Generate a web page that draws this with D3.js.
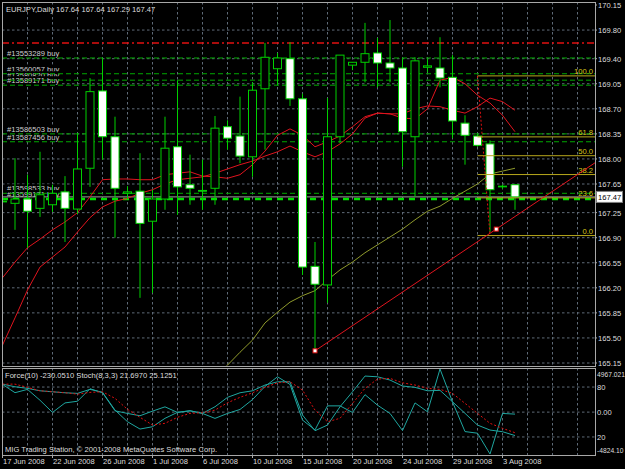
<!DOCTYPE html>
<html><head><meta charset="utf-8">
<script src="https://cdn.jsdelivr.net/npm/d3@7/dist/d3.min.js"></script>
<style>
html,body{margin:0;padding:0;background:#000;}
svg{display:block;}
text{font-family:"Liberation Sans",Arial,sans-serif;}
</style>
</head><body>
<svg id="c" width="625" height="469"></svg>
<script>
// ---------------- DATA ----------------
const symbolTitle = "EURJPY,Daily  167.64 167.64 167.29 167.47";
const panelTitle = "Force(10) -230.0510  Stoch(8,3,3) 21.6970 25.1251";
const copyright = "MIG Trading Station, \u00a9 2001-2008 MetaQuotes Software Corp.";

const dates = ["17 Jun 2008","18 Jun 2008","19 Jun 2008","20 Jun 2008","22 Jun 2008","23 Jun 2008","24 Jun 2008","25 Jun 2008","26 Jun 2008","27 Jun 2008","29 Jun 2008","30 Jun 2008","1 Jul 2008","2 Jul 2008","3 Jul 2008","4 Jul 2008","6 Jul 2008","7 Jul 2008","8 Jul 2008","9 Jul 2008","10 Jul 2008","11 Jul 2008","13 Jul 2008","14 Jul 2008","15 Jul 2008","16 Jul 2008","17 Jul 2008","18 Jul 2008","20 Jul 2008","21 Jul 2008","22 Jul 2008","23 Jul 2008","24 Jul 2008","25 Jul 2008","27 Jul 2008","28 Jul 2008","29 Jul 2008","30 Jul 2008","31 Jul 2008","1 Aug 2008","3 Aug 2008","4 Aug 2008"];

const open  = [167.40,167.38,167.44,167.31,167.36,167.54,167.30,167.87,168.95,168.31,167.52,167.55,167.13,167.44,168.17,167.64,167.56,167.59,168.45,168.32,168.03,168.98,169.26,169.40,168.84,166.50,166.24,168.31,169.31,169.35,169.48,169.34,169.27,168.31,169.28,169.27,169.14,168.50,168.32,168.21,167.62,167.64];
const high  = [167.80,168.01,167.78,168.10,167.64,167.76,168.36,169.13,169.41,168.59,167.62,168.08,167.57,168.59,169.10,168.06,167.99,168.60,168.54,168.87,169.07,169.62,169.48,169.63,168.91,166.84,168.85,169.45,169.35,169.90,169.69,169.94,169.41,169.42,169.40,169.70,169.45,168.61,168.35,168.26,167.64,167.64];
const low   = [167.05,167.01,166.76,167.19,167.26,166.84,167.23,167.61,167.99,166.90,167.44,166.06,166.13,167.29,167.22,167.36,167.29,167.36,168.13,167.94,167.75,168.13,169.03,168.74,166.38,165.32,165.99,168.22,169.24,169.07,169.00,169.07,167.89,167.47,169.21,169.00,168.29,167.92,168.17,166.98,167.58,167.29];
const close = [167.41,167.44,167.27,167.50,167.52,167.31,167.86,168.94,168.31,167.59,167.54,167.10,167.44,168.15,167.61,167.59,167.55,168.43,168.29,168.04,168.96,169.42,169.41,168.84,166.49,166.25,168.31,169.45,169.35,169.47,169.34,169.27,168.38,169.37,169.30,169.13,168.53,168.33,168.19,167.57,167.61,167.47];

// moving averages on the price chart
const maFast = [166.34,166.56,166.76,166.88,167.01,167.12,167.25,167.47,167.71,167.72,167.72,167.71,167.71,167.78,167.80,167.82,167.76,167.75,167.73,167.78,167.92,168.11,168.33,168.42,168.33,168.17,168.24,168.32,168.45,168.59,168.64,168.63,168.57,168.56,168.70,169.10,169.14,169.05,168.89,168.78,168.61,168.38];
const maSlow = [165.40,165.78,166.17,166.49,166.63,166.77,166.98,167.18,167.33,167.41,167.45,167.52,167.57,167.65,167.71,167.73,167.75,167.80,167.86,167.92,167.97,168.04,168.10,168.18,168.10,168.03,168.10,168.21,168.35,168.57,168.64,168.63,168.63,168.70,168.74,168.73,168.68,168.64,168.73,168.85,168.80,168.68];
const maLong = [null,null,null,null,null,null,null,null,null,null,null,null,null,null,null,null,null,164.95,165.12,165.30,165.47,165.71,165.86,166.00,166.09,166.16,166.31,166.45,166.56,166.69,166.80,166.91,167.02,167.15,167.27,167.34,167.45,167.55,167.65,167.79,167.83,167.87];

// price axis
const priceTicks = [170.15,169.80,169.40,169.05,168.70,168.35,168.00,167.65,167.25,166.90,166.55,166.20,165.85,165.50,165.15];
const priceMin = 165.15, priceMax = 170.15;
const bidPrice = 167.47;

// order / stop lines
const stopLevel = 169.62;
const orderIds    = ["#13553289 buy","#13560057 buy","#13580820 buy","#13589171 buy","#13586503 buy","#13587456 buy","#13598533 buy","#13599171 buy"];
const orderPrices = [169.41,169.19,169.10,169.03,168.35,168.24,167.52,167.44];

// fibonacci retracement
const fibLevels = [100.0,61.8,50.0,38.2,23.6,0.0];
const fibHigh = 169.16, fibLow = 166.93;
const fibStartBar = 38, fibEndBar = 39;

// trend line anchors (bar index, price)
const trendBars = [25, 39.5];
const trendPrices = [165.32, 167.02];

// indicator panel
const forceVals = [3189,2240,2620,1367,-38,1060,1253,2695,2240,152,-152,-418,114,607,-38,152,-152,-721,-152,304,1443,2961,4067,3189,-911,-2050,721,721,-38,2012,797,-152,-2126,1063,38,4967.021,1177,-2240,-2430,-4824.10,-152,-230.051];
const stochMain = [83.5,80.3,78.4,75.5,74.3,73.1,72.4,77.2,73.6,52.3,38.3,29.5,32.3,42.4,49.6,51.5,48.4,56.3,67.6,73.1,75.5,82.4,86.3,86.3,46.3,27.5,34.3,56.3,74.3,93.2,92.3,88.4,81.2,79.6,75.5,76.0,62.3,48.4,34.3,28.3,26.3,21.697];
const stochSignal = [83.5,83.5,79.6,75.5,74.3,73.1,71.5,73.6,74.3,66.4,53.2,43.6,34.3,36.4,43.6,48.4,49.1,52.3,61.1,67.6,73.1,79.6,85.1,86.3,76.3,52.3,38.3,42.4,60.4,78.4,89.6,90.4,85.1,82.4,78.4,77.2,72.4,60.4,48.4,36.4,30.4,25.1251];
const forceMax = 4967.021, forceMin = -4824.10;
const stochLevels = [80, 20];

// ---------------- DRAW ----------------
const svg = d3.select("#c");
const W = 625, H = 469;
const L = 2, R = 595, T = 2, B = 366;      // main chart box
const PT = 368, PB = 455;                   // panel box
svg.append("rect").attr("width",W).attr("height",H).attr("fill","#000");

const x = d3.scaleLinear().domain([0, 41]).range([2.5, 515]);
const y = d3.scaleLinear().domain([priceMin, priceMax]).range([363, 5]);
const yF = d3.scaleLinear().domain([forceMin, forceMax]).range([454, 369]);
const yS = d3.scaleLinear().domain([0, 100]).range([453.6, 370.4]);

const gridCol = "#5f6b78";
const textCol = "#dedede";
const fs = 7.6;

const defs = svg.append("defs");
defs.append("clipPath").attr("id","mainClip").append("rect").attr("x",L).attr("y",T).attr("width",R-L).attr("height",B-T);
defs.append("clipPath").attr("id","panClip").append("rect").attr("x",L).attr("y",PT).attr("width",R-L).attr("height",PB-PT);

const main = svg.append("g").attr("clip-path","url(#mainClip)");
const pan = svg.append("g").attr("clip-path","url(#panClip)");

// vertical grid every 2 bars
const vgrid = d3.range(0, 48, 2);
main.selectAll("line.vg").data(vgrid).join("line")
  .attr("x1",d=>x(d)).attr("x2",d=>x(d)).attr("y1",T).attr("y2",B)
  .attr("stroke",gridCol).attr("stroke-dasharray","2.5,2.5");
pan.selectAll("line.vg").data(vgrid).join("line")
  .attr("x1",d=>x(d)).attr("x2",d=>x(d)).attr("y1",PT).attr("y2",PB)
  .attr("stroke",gridCol).attr("stroke-dasharray","2.5,2.5");

// horizontal grid at price ticks
main.selectAll("line.hg").data(priceTicks.slice(1)).join("line")
  .attr("x1",L).attr("x2",R).attr("y1",d=>y(d)).attr("y2",d=>y(d))
  .attr("stroke",gridCol).attr("stroke-dasharray","2.5,2.5");

// panel grid
pan.selectAll("line.sg").data(stochLevels).join("line")
  .attr("x1",L).attr("x2",R).attr("y1",d=>yS(d)).attr("y2",d=>yS(d))
  .attr("stroke",gridCol).attr("stroke-dasharray","2.5,2.5");
pan.append("line").attr("x1",L).attr("x2",R).attr("y1",yF(0)).attr("y2",yF(0))
  .attr("stroke",gridCol).attr("stroke-dasharray","2.5,2.5");

// order labels (opaque background like MT4)
const lab = main.append("g");
orderIds.forEach((t,i)=>{
  const yy = y(orderPrices[i]) - 2;
  const tx = lab.append("text").attr("x",7).attr("y",yy).attr("font-size",fs).attr("fill","#cfcfcf").text(t);
  const bb = tx.node().getBBox();
  lab.insert("rect","text:last-child").attr("x",bb.x-1).attr("y",bb.y).attr("width",bb.width+2).attr("height",bb.height).attr("fill","#000");
});

// stop line (red dash-dot)
main.append("line").attr("x1",L).attr("x2",R).attr("y1",y(stopLevel)).attr("y2",y(stopLevel))
  .attr("stroke","#e01010").attr("stroke-width",1.6).attr("stroke-dasharray","7,3,2,3");

// order lines
main.selectAll("line.ord").data(orderPrices).join("line")
  .attr("x1",L).attr("x2",R).attr("y1",d=>y(d)).attr("y2",d=>y(d))
  .attr("stroke",(d,i)=> i===orderPrices.length-1 ? "#00e000" : "#00a800")
  .attr("stroke-width",(d,i)=> i===orderPrices.length-1 ? 2.6 : 1)
  .attr("stroke-dasharray",(d,i)=> i===orderPrices.length-1 ? "6,5" : "5,3");

// bid line
main.append("line").attr("x1",L).attr("x2",R).attr("y1",y(bidPrice)).attr("y2",y(bidPrice))
  .attr("stroke","#9a9a9a").attr("stroke-width",1);

// moving averages
const lineGen = d3.line().defined(d=>d!=null).x((d,i)=>x(i)).y(d=>y(d));
main.append("path").attr("d",lineGen(maLong)).attr("fill","none").attr("stroke","#8f9a2c").attr("stroke-width",1);
main.append("path").attr("d",lineGen(maSlow)).attr("fill","none").attr("stroke","#e0141e").attr("stroke-width",1);
main.append("path").attr("d",lineGen(maFast)).attr("fill","none").attr("stroke","#e0141e").attr("stroke-width",1);

// candles
const idx = d3.range(dates.length);
const candleCol = "#00d000";
main.selectAll("line.wick").data(idx).join("line")
  .attr("x1",i=>x(i)).attr("x2",i=>x(i)).attr("y1",i=>y(high[i])).attr("y2",i=>y(low[i]))
  .attr("stroke",candleCol).attr("stroke-width",1);
main.selectAll("rect.body").data(idx).join("rect")
  .attr("x",i=>x(i)-4).attr("width",8)
  .attr("y",i=>y(Math.max(open[i],close[i])))
  .attr("height",i=>Math.max(0.01, Math.abs(y(open[i])-y(close[i]))))
  .attr("fill",i=> close[i] < open[i] ? "#ffffff" : "#000000")
  .attr("stroke",candleCol).attr("stroke-width",1);

// fibonacci retracement
const fibY = l => y(fibLow + (fibHigh - fibLow) * l / 100);
main.append("line").attr("x1",x(fibStartBar)).attr("y1",y(fibHigh)).attr("x2",x(fibEndBar)).attr("y2",y(fibLow))
  .attr("stroke","#e01010").attr("stroke-dasharray","2,2");
main.selectAll("line.fib").data(fibLevels).join("line")
  .attr("x1",x(fibStartBar)).attr("x2",R).attr("y1",d=>fibY(d)).attr("y2",d=>fibY(d))
  .attr("stroke","#b8a81c").attr("stroke-width",1);
main.selectAll("text.fib").data(fibLevels).join("text")
  .attr("x",R-2).attr("y",d=>fibY(d)-2).attr("text-anchor","end")
  .attr("font-size",fs).attr("fill","#d8c81a").text(d=>d.toFixed(1));

// trend line (ray to the right)
const slope = (trendPrices[1]-trendPrices[0])/(trendBars[1]-trendBars[0]);
const endBar = x.invert(R);
main.append("line").attr("x1",x(trendBars[0])).attr("y1",y(trendPrices[0]))
  .attr("x2",x(endBar)).attr("y2",y(trendPrices[0]+slope*(endBar-trendBars[0])))
  .attr("stroke","#e0141e").attr("stroke-width",1);
main.selectAll("rect.anch").data(trendBars).join("rect")
  .attr("x",(d)=>x(d)-2).attr("y",(d,i)=>y(trendPrices[i])-2).attr("width",4).attr("height",4)
  .attr("fill","#fff").attr("stroke","#e01010").attr("stroke-width",1);

// title
svg.append("text").attr("x",6).attr("y",12).attr("font-size",fs).attr("fill",textCol).text(symbolTitle);

// borders
svg.append("rect").attr("x",L+0.5).attr("y",T+0.5).attr("width",R-L).attr("height",B-T).attr("fill","none").attr("stroke","#a8a8a8");
svg.append("rect").attr("x",L+0.5).attr("y",PT+0.5).attr("width",R-L).attr("height",PB-PT).attr("fill","none").attr("stroke","#a8a8a8");

// price axis labels
svg.selectAll("text.pt").data(priceTicks).join("text")
  .attr("x",598).attr("y",d=>y(d)+3).attr("font-size",fs).attr("fill",textCol).text(d=>d.toFixed(2));
svg.selectAll("line.ptk").data(priceTicks).join("line")
  .attr("x1",R).attr("x2",R+2).attr("y1",d=>y(d)).attr("y2",d=>y(d)).attr("stroke","#a8a8a8");

// bid box
svg.append("rect").attr("x",596.5).attr("y",y(bidPrice)-5.5).attr("width",26).attr("height",11)
  .attr("fill","#fff").attr("stroke","#808080");
svg.append("text").attr("x",598).attr("y",y(bidPrice)+3).attr("font-size",fs).attr("fill","#000").text(bidPrice.toFixed(2));

// panel lines
const fLine = d3.line().x((d,i)=>x(i)).y(d=>yF(d));
const sLine = d3.line().x((d,i)=>x(i)).y(d=>yS(d));
pan.append("path").attr("d",fLine(forceVals)).attr("fill","none").attr("stroke","#1fa6a0").attr("stroke-width",1);
pan.append("path").attr("d",sLine(stochMain)).attr("fill","none").attr("stroke","#1fa6a0").attr("stroke-width",1);
pan.append("path").attr("d",sLine(stochSignal)).attr("fill","none").attr("stroke","#e01010").attr("stroke-width",1).attr("stroke-dasharray","2,2");

svg.append("text").attr("x",5).attr("y",378).attr("font-size",fs).attr("fill",textCol).text(panelTitle);
svg.append("text").attr("x",5).attr("y",452).attr("font-size",fs).attr("fill",textCol).text(copyright);

// panel axis labels
const panelLabels = [
  {t: forceMax.toFixed(3), yy: 374, small: true},
  {t: "80", yy: yS(80)},
  {t: "0.00", yy: yF(0)},
  {t: "20", yy: yS(20)},
  {t: forceMin.toFixed(2), yy: 450, small: true}
];
svg.selectAll("text.pl").data(panelLabels).join("text")
  .attr("x",597).attr("y",d=>d.yy+3).attr("font-size",d=>d.small ? 6.7 : fs).attr("fill",textCol).text(d=>d.t);

// date axis
const dateTicks = d3.range(0, dates.length, 4);
svg.selectAll("line.dt").data(dateTicks).join("line")
  .attr("x1",i=>x(i)).attr("x2",i=>x(i)).attr("y1",PB).attr("y2",PB+3).attr("stroke","#a8a8a8");
svg.selectAll("text.dt").data(dateTicks).join("text")
  .attr("x",i=>x(i)+0.5).attr("y",464).attr("font-size",fs).attr("fill",textCol).text(i=>dates[i]);
</script>
</body></html>
